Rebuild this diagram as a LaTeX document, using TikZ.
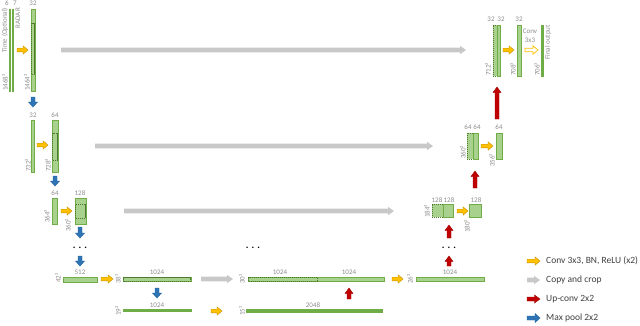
\documentclass[tikz,border=0pt]{standalone}
\usepackage{fontspec}
\setmainfont{Carlito}
\usetikzlibrary{calc,fit}
\definecolor{gfill}{HTML}{A9D18E}
\definecolor{gline}{HTML}{70AD47}
\definecolor{gdark}{HTML}{4E7A30}
\definecolor{yfill}{HTML}{FFC000}
\definecolor{yline}{HTML}{C09000}
\definecolor{grayarr}{HTML}{C8C8C8}
\definecolor{rfill}{HTML}{C00000}
\definecolor{rline}{HTML}{9A0000}
\definecolor{bfill}{HTML}{2E75B6}
\definecolor{bline}{HTML}{1F5F99}
\definecolor{lbl}{HTML}{8C8C8C}
\definecolor{legtxt}{HTML}{404040}
% block arrows between two named coordinates
\newcommand\ArrR[6]{\path[#1] let \p1=(#2), \p2=(#3) in (\x1,{\y1+#4}) -- ({\x2-#6},{\y1+#4}) -- ({\x2-#6},{\y1+#5}) -- (\x2,\y1) -- ({\x2-#6},{\y1-#5}) -- ({\x2-#6},{\y1-#4}) -- (\x1,{\y1-#4}) -- cycle;}
\newcommand\ArrD[6]{\path[#1] let \p1=(#2), \p2=(#3) in ({\x1-#4},\y1) -- ({\x1-#4},{\y2+#6}) -- ({\x1-#5},{\y2+#6}) -- (\x1,\y2) -- ({\x1+#5},{\y2+#6}) -- ({\x1+#4},{\y2+#6}) -- ({\x1+#4},\y1) -- cycle;}
\newcommand\ArrU[6]{\path[#1] let \p1=(#2), \p2=(#3) in ({\x1-#4},\y1) -- ({\x1-#4},{\y2-#6}) -- ({\x1-#5},{\y2-#6}) -- (\x1,\y2) -- ({\x1+#5},{\y2-#6}) -- ({\x1+#4},{\y2-#6}) -- ({\x1+#4},\y1) -- cycle;}
\newcommand\YA[2]{\ArrR{yarr}{#1}{#2}{1.8pt}{4.2pt}{5pt}}
\newcommand\GA[2]{\ArrR{garr}{#1}{#2}{2.3pt}{4.2pt}{6pt}}
\newcommand\BA[2]{\ArrD{barr}{#1}{#2}{2pt}{4.5pt}{5pt}}
\newcommand\RA[2]{\ArrU{rarr}{#1}{#2}{2pt}{4pt}{5.5pt}}
\tikzset{
  lbar/.style={draw=gline, fill=gfill, line width=0.6pt, inner sep=0pt, outer sep=0pt},
  sbar/.style={draw=gline, fill=gline, line width=0.3pt, inner sep=0pt, outer sep=0pt},
  dbar/.style={draw=gdark, fill=gfill, line width=0.5pt, dash pattern=on 1.2pt off 0.8pt, inner sep=0pt, outer sep=0pt},
  dline/.style={draw=gdark, line width=0.5pt, dash pattern=on 1.2pt off 0.8pt, inner sep=0pt, outer sep=0pt},
  yarr/.style={fill=yfill, draw=yline, line width=0.4pt},
  warr/.style={fill=white, draw=yfill, line width=0.7pt},
  garr/.style={fill=grayarr},
  barr/.style={fill=bfill, draw=bline, line width=0.4pt},
  rarr/.style={fill=rfill, draw=rline, line width=0.4pt},
  lb/.style={font=\fontsize{7}{8}\selectfont, text=lbl, inner sep=0pt},
  rl/.style={lb, rotate=90, anchor=west},
  rle/.style={lb, rotate=90, anchor=east},
  dots/.style={font=\fontsize{10}{10}\selectfont\bfseries, inner sep=0pt, anchor=base},
  leg/.style={font=\fontsize{9.5}{11}\selectfont, text=legtxt, anchor=west, inner sep=0pt}
}
\begin{document}
\begin{tikzpicture}[x=1pt,y=-1pt]
\useasboundingbox (0,0) rectangle (640,325);
% ---------- level 1 left
\node[sbar, fit={(9,9) (10.4,91)}] (inA) {};
\node[sbar, fit={(12,9) (13.4,91)}] (inB) {};
\node[lbar, fit={(31,9) (35,91)}] (e1) {};
\node[dline, fit={(31.7,23) (34.3,74)}] (e1d) {};
\node[lb] (t6) at (7,3) {6};
\node[lb] (t7) at (15,3) {7};
\node[lb] (t32a) at (33,3) {32};
\node[rle] (ttime) at (5,8) {Time (Optional)};
\node[rle] (tradar) at (18,8) {RADAR};
\node[rl] (s1468) at (5,91) {1468²};
\node[rl] (s1464) at (27,91) {1464²};
% ---------- level 2 left
\node[lbar, fit={(31,120) (34.5,172)}] (e2a) {};
\node[lbar, fit={(52,120) (58,172)}] (e2b) {};
\node[dline, fit={(52.7,133) (57.3,160)}] (e2d) {};
\node[lb] (t32b) at (33,115) {32};
\node[lb] (t64a) at (55,115) {64};
\node[rl] (s732) at (28,172) {732²};
\node[rl] (s728) at (48,172) {728²};
% ---------- level 3 left
\node[lbar, fit={(52,198) (57.5,224)}] (e3a) {};
\node[lbar, fit={(75,198) (86,224)}] (e3b) {};
\node[dline, fit={(75.7,204) (85.3,218)}] (e3d) {};
\node[lb] (t64b) at (55,193) {64};
\node[lb] (t128a) at (80,193) {128};
\node[rl] (s364) at (47,223) {364²};
\node[rl] (s360) at (68,232) {360²};
% ---------- bottom
\node[lbar, fit={(63,277) (97,282)}] (b512) {};
\node[lbar, fit={(123,277) (191,281.5)}] (b1024a) {};
\node[dline, fit={(123.6,277.6) (190.4,280.9)}] (b1024d) {};
\node[lbar, fit={(248,277) (384,281.5)}] (b30) {};
\node[dline, fit={(248.6,277.6) (317,280.9)}] (b30d) {};
\node[lbar, fit={(416,277) (484,281.5)}] (b26) {};
\node[sbar, fit={(123,309) (191,311.5)}] (b19) {};
\node[sbar, fit={(246,309) (382,312)}] (b15) {};
\node[lb] at (80,272) {512};
\node[lb] at (157,272) {1024};
\node[lb] at (280,272) {1024};
\node[lb] at (349,272) {1024};
\node[lb] at (450,272) {1024};
\node[lb] at (157,305) {1024};
\node[lb] at (313,305) {2048};
\node[lb, rotate=90] at (58,278) {42²};
\node[lb, rotate=90] at (118,279) {38²};
\node[lb, rotate=90] at (118,311) {19²};
\node[lb, rotate=90] at (242,311) {15²};
\node[lb, rotate=90] at (242,279) {30²};
\node[lb, rotate=90] at (410,279) {26²};
% ---------- level 3 right
\node[dbar, fit={(432,204) (443,217)}] (u3d) {};
\node[lbar, fit={(443,204) (453,217)}] (u3a) {};
\node[lbar, fit={(469,204) (481,217)}] (u3b) {};
\node[lb] at (437,200) {128};
\node[lb] at (449,200) {128};
\node[lb] at (476,200) {128};
\node[rl] at (427,218) {184²};
\node[rl] at (467,233) {180²};
% ---------- level 2 right
\node[dbar, fit={(467,133) (473,159)}] (u2d) {};
\node[lbar, fit={(473,133) (478,159)}] (u2a) {};
\node[lbar, fit={(496,133) (502,159)}] (u2b) {};
\node[lb] at (468,127) {64};
\node[lb] at (477,127) {64};
\node[lb] at (499,127) {64};
\node[rl] at (463,159) {360²};
\node[rl] at (492,167) {356²};
% ---------- level 1 right
\node[dbar, fit={(493,25) (497,76)}] (u1d) {};
\node[lbar, fit={(497,25) (500.5,76)}] (u1a) {};
\node[lbar, fit={(517,25) (521,76)}] (u1b) {};
\node[sbar, fit={(541,25) (543,76)}] (out) {};
\node[lb] at (491,19) {32};
\node[lb] at (501,19) {32};
\node[lb] at (519,19) {32};
\node[lb] at (530,31) {Conv};
\node[lb] at (530,40) {3x3};
\node[rl] at (488,76) {712²};
\node[rl] at (513,76) {708²};
\node[rl] at (537,76) {706²};
\node[rle] at (548,25) {Final output};
% ---------- dots
\node[dots] (d1) at (80,248.5) {. . .};
\node[dots] (d2) at (253,248.5) {. . .};
\node[dots] (d3) at (449,248.5) {. . .};
% ---------- arrow end coordinates
\coordinate (y1a) at (17,50);   \coordinate (y1b) at (28,50);
\coordinate (y2a) at (37,145);  \coordinate (y2b) at (48,145);
\coordinate (y3a) at (61,211);  \coordinate (y3b) at (72,211);
\coordinate (y4a) at (101,279); \coordinate (y4b) at (113,279);
\coordinate (y5a) at (211,311); \coordinate (y5b) at (222,311);
\coordinate (y6a) at (392,279); \coordinate (y6b) at (403,279);
\coordinate (y7a) at (457,211); \coordinate (y7b) at (468,211);
\coordinate (y8a) at (481,146); \coordinate (y8b) at (493,146);
\coordinate (y9a) at (503,50);  \coordinate (y9b) at (514,50);
\coordinate (w1a) at (525,50);  \coordinate (w1b) at (538,50);
\coordinate (g1a) at (61,50);   \coordinate (g1b) at (466,50);
\coordinate (g2a) at (95,146);  \coordinate (g2b) at (433,146);
\coordinate (g3a) at (124,211); \coordinate (g3b) at (394,211);
\coordinate (g4a) at (201,279); \coordinate (g4b) at (233,279);
\coordinate (m1a) at (33,97);   \coordinate (m1b) at (33,107);
\coordinate (m2a) at (55,176);  \coordinate (m2b) at (55,186);
\coordinate (m3a) at (80,227);  \coordinate (m3b) at (80,238);
\coordinate (m4a) at (80,256);  \coordinate (m4b) at (80,266);
\coordinate (m5a) at (157,288); \coordinate (m5b) at (157,298);
\coordinate (r1a) at (349,299); \coordinate (r1b) at (349,288);
\coordinate (r2a) at (449,266); \coordinate (r2b) at (449,256);
\coordinate (r3a) at (449,238); \coordinate (r3b) at (449,225);
\coordinate (r4a) at (475,188); \coordinate (r4b) at (475,171);
\coordinate (r5a) at (497,119); \coordinate (r5b) at (497,87);
% ---------- arrows
\YA{y1a}{y1b} \YA{y2a}{y2b} \YA{y3a}{y3b} \YA{y4a}{y4b} \YA{y5a}{y5b}
\YA{y6a}{y6b} \YA{y7a}{y7b} \YA{y8a}{y8b} \YA{y9a}{y9b}
\ArrR{warr}{w1a}{w1b}{1.8pt}{4.2pt}{5pt}
\GA{g1a}{g1b} \GA{g2a}{g2b} \GA{g3a}{g3b} \GA{g4a}{g4b}
\BA{m1a}{m1b} \BA{m2a}{m2b} \BA{m3a}{m3b} \BA{m4a}{m4b} \BA{m5a}{m5b}
\RA{r1a}{r1b} \RA{r2a}{r2b} \RA{r3a}{r3b} \RA{r4a}{r4b} \RA{r5a}{r5b}
% ---------- legend
\coordinate (l1a) at (527,261); \coordinate (l1b) at (540,261);
\coordinate (l2a) at (527,280); \coordinate (l2b) at (540,280);
\coordinate (l3a) at (527,299); \coordinate (l3b) at (540,299);
\coordinate (l4a) at (527,318); \coordinate (l4b) at (540,318);
\YA{l1a}{l1b}
\GA{l2a}{l2b}
\ArrR{rarr}{l3a}{l3b}{2pt}{4pt}{5.5pt}
\ArrR{barr}{l4a}{l4b}{2pt}{4.5pt}{5pt}
\node[leg] (leg1) at (546,261) {Conv 3x3, BN, ReLU (x2)};
\node[leg] (leg2) at (546,280) {Copy and crop};
\node[leg] (leg3) at (546,299) {Up-conv 2x2};
\node[leg] (leg4) at (546,318) {Max pool 2x2};
\end{tikzpicture}
\end{document}
